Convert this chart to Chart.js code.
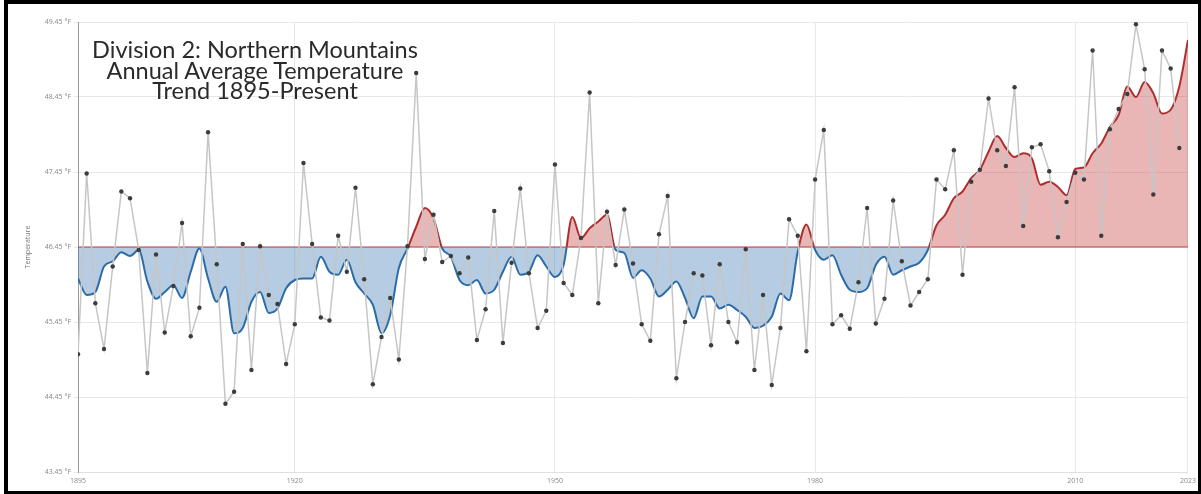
<!DOCTYPE html>
<html lang="en">
<head>
    <meta charset="UTF-8">
    <title>Division 2: Northern Mountains</title>
    <script src="https://cdn.jsdelivr.net/npm/chart.js"></script>
    <style>
        body {
            margin: 0;
            background: #fff;
        }

        .wrap {
            position: relative;
            width: 1201px;
            height: 494px;
            overflow: hidden;
        }

        #chart {
            position: absolute;
            left: 0;
            top: 0;
        }

        .frame {
            position: absolute;
            left: 4px;
            top: 0;
            width: 1190px;
            height: 487px;
            border-style: solid;
            border-color: #000;
            border-width: 4px 3px 3px 4px;
            pointer-events: none;
        }

        .title {
            position: absolute;
            left: 55px;
            top: 39px;
            width: 400px;
            text-align: center;
            font-family: Lato, 'Open Sans', sans-serif;
            font-size: 23.5px;
            line-height: 20.5px;
            color: #2a2a2a;
        }
    </style>
</head>
<body>
    <div class="wrap">
        <canvas id="chart" width="1201" height="494"></canvas>
        <div class="title">Division 2: Northern Mountains<br>Annual Average Temperature<br>Trend 1895-Present</div>
        <div class="frame"></div>
    </div>

    <script>
        const years = [];
        for (let y = 1895; y <= 2023; y++) years.push(y);

        // annual average temperature, °F (2023 not plotted)
        const annualTemps = [
            45.02, 47.43, 45.70, 45.09, 46.19, 47.19, 47.10, 46.41, 44.77, 46.35,
            45.31, 45.93, 46.77, 45.26, 45.64, 47.98, 46.22, 44.36, 44.52, 46.49,
            44.81, 46.46, 45.81, 45.69, 44.89, 45.42, 47.57, 46.49, 45.51, 45.47,
            46.60, 46.12, 47.24, 46.02, 44.62, 45.25, 45.77, 44.95, 46.46, 48.77,
            46.29, 46.88, 46.25, 46.33, 46.10, 46.31, 45.21, 45.62, 46.93, 45.17,
            46.24, 47.23, 46.10, 45.37, 45.60, 47.55, 45.97, 45.81, 46.57, 48.51,
            45.70, 46.92, 46.21, 46.95, 46.23, 45.42, 45.20, 46.62, 47.13, 44.70,
            45.45, 46.10, 46.07, 45.14, 46.22, 45.45, 45.18, 46.42, 44.81, 45.81,
            44.61, 45.37, 46.82, 46.60, 45.06, 47.35, 48.01, 45.42, 45.54, 45.36,
            45.98, 46.97, 45.43, 45.76, 47.07, 46.26, 45.67, 45.85, 46.02, 47.35,
            47.22, 47.74, 46.08, 47.32, 47.48, 48.43, 47.74, 47.53, 48.58, 46.73,
            47.78, 47.82, 47.46, 46.58, 47.05, 47.44, 47.35, 49.07, 46.60, 48.02,
            48.29, 48.49, 49.42, 48.82, 47.15, 49.07, 48.83, 47.77, null
        ];

        // smoothed trend
        const trendTemps = [
            46.03, 45.81, 45.85, 46.19, 46.26, 46.38, 46.33, 46.41, 45.99, 45.76,
            45.85, 45.94, 45.77, 46.12, 46.43, 46.03, 45.72, 45.92, 45.30, 45.37,
            45.72, 45.85, 45.57, 45.63, 45.90, 46.01, 46.03, 46.03, 46.32, 46.12,
            46.08, 46.28, 45.98, 45.83, 45.68, 45.30, 45.54, 46.17, 46.43, 46.72,
            46.97, 46.83, 46.43, 46.32, 46.01, 45.94, 46.01, 45.83, 45.88, 46.12,
            46.32, 46.08, 46.12, 46.34, 46.19, 46.05, 46.21, 46.85, 46.57, 46.70,
            46.79, 46.88, 46.41, 46.37, 46.04, 46.14, 46.03, 45.79, 45.88, 45.99,
            45.77, 45.50, 45.79, 45.79, 45.63, 45.68, 45.61, 45.52, 45.37, 45.40,
            45.52, 45.83, 45.74, 46.39, 46.75, 46.41, 46.28, 46.34, 46.08, 45.88,
            45.85, 45.90, 46.21, 46.32, 46.08, 46.14, 46.19, 46.24, 46.41, 46.74,
            46.88, 47.10, 47.19, 47.37, 47.48, 47.72, 47.93, 47.77, 47.65, 47.70,
            47.63, 47.28, 47.32, 47.25, 47.14, 47.49, 47.51, 47.70, 47.83, 48.05,
            48.21, 48.59, 48.45, 48.65, 48.50, 48.23, 48.28, 48.59, 49.21
        ];

        const BASELINE = 46.45;
        const yTicks = [43.45, 44.45, 45.45, 46.45, 47.45, 48.45, 49.45];
        const xTicks = [1895, 1920, 1950, 1980, 2010, 2023];

        const RED = '#ac2f2f';
        const BLUE = '#2c6ca6';

        const toPoints = arr => years.map((yr, i) => ({ x: yr, y: arr[i] }));

        // red above the baseline, blue below
        function trendColor(context) {
            const chart = context.chart;
            const area = chart.chartArea;
            if (!area) return BLUE;
            const y0 = chart.scales.y.getPixelForValue(BASELINE);
            const stop = (y0 - area.top) / (area.bottom - area.top);
            const g = chart.ctx.createLinearGradient(0, area.top, 0, area.bottom);
            g.addColorStop(0, RED);
            g.addColorStop(stop, RED);
            g.addColorStop(stop, BLUE);
            g.addColorStop(1, BLUE);
            return g;
        }

        const tickFont = { family: "'Open Sans', sans-serif", size: 7 };

        new Chart(document.getElementById('chart'), {
            type: 'line',
            data: {
                datasets: [
                    {
                        label: 'Temperature',
                        data: toPoints(annualTemps),
                        borderColor: '#c6c6c6',
                        borderWidth: 1.5,
                        pointRadius: 2.2,
                        pointBackgroundColor: '#3c3c3c',
                        pointBorderWidth: 0,
                        tension: 0,
                        fill: false,
                        order: 0
                    },
                    {
                        label: 'Baseline',
                        data: toPoints(years.map(() => BASELINE)),
                        borderColor: '#b84444',
                        borderWidth: 1.2,
                        pointRadius: 0,
                        fill: false,
                        order: 1
                    },
                    {
                        label: 'Trend',
                        data: toPoints(trendTemps),
                        borderColor: trendColor,
                        borderWidth: 2,
                        pointRadius: 0,
                        cubicInterpolationMode: 'monotone',
                        fill: {
                            target: { value: BASELINE },
                            above: 'rgba(200, 70, 70, 0.4)',
                            below: 'rgba(60, 120, 180, 0.38)'
                        },
                        order: 2
                    }
                ]
            },
            options: {
                responsive: false,
                animation: false,
                layout: {
                    padding: { top: 22, right: 13, left: 0, bottom: 0 }
                },
                plugins: {
                    legend: { display: false },
                    tooltip: { enabled: false }
                },
                scales: {
                    x: {
                        type: 'linear',
                        min: 1895,
                        max: 2023,
                        afterBuildTicks: scale => {
                            scale.ticks = xTicks.map(v => ({ value: v }));
                        },
                        afterFit: scale => { scale.height = 22; },
                        grid: { color: '#e8e8e8', tickLength: 0 },
                        border: { color: '#e0e0e0' },
                        ticks: {
                            font: tickFont,
                            color: '#888',
                            padding: 5,
                            maxRotation: 0,
                            autoSkip: false,
                            callback: v => String(v)
                        }
                    },
                    y: {
                        min: 43.45,
                        max: 49.45,
                        afterBuildTicks: scale => {
                            scale.ticks = yTicks.map(v => ({ value: v }));
                        },
                        afterFit: scale => { scale.width = 78; },
                        grid: { color: '#e8e8e8', tickLength: 4 },
                        border: { color: '#999', width: 1 },
                        ticks: {
                            font: tickFont,
                            color: '#888',
                            padding: 3,
                            callback: v => v.toFixed(2) + ' °F'
                        },
                        title: {
                            display: true,
                            text: 'Temperature',
                            font: { family: "'Open Sans', sans-serif", size: 7 },
                            color: '#777',
                            padding: { top: 24, bottom: 0 }
                        }
                    }
                }
            }
        });
    </script>
</body>
</html>
